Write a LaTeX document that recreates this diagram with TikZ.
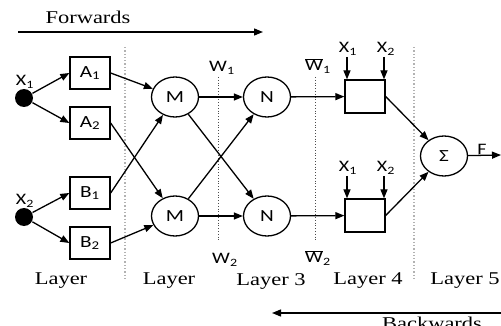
\documentclass[tikz,border=0pt]{standalone}
\usepackage{fontspec}
\usepackage{graphicx}
\setmainfont{Liberation Serif}
\newfontfamily\calfont{Carlito}
\usetikzlibrary{arrows.meta,shapes.geometric}
\newcommand{\stretchx}[1]{\scalebox{1.25}[1]{#1}}
\newcommand{\wbar}[1]{\stretchx{\(\overline{\mbox{W}}\)\textsubscript{#1}}}

\begin{document}
\begin{tikzpicture}[x=1pt, y=-1pt, >={Triangle[length=9pt,width=7pt]}, line width=1.3pt,
  cell/.style={draw, line width=1.3pt, minimum width=40pt, minimum height=32pt, inner sep=0pt, font=\calfont\fontsize{17}{17}\selectfont},
  unit/.style={draw, ellipse, line width=1.3pt, minimum width=47pt, minimum height=40pt, inner sep=0pt, font=\calfont\fontsize{17}{17}\selectfont},
  inp/.style={circle, fill, minimum size=18pt, inner sep=0pt},
  sym/.style={inner sep=0pt, font=\calfont\fontsize{16}{16}\selectfont},
  lay/.style={inner sep=0pt, font=\fontsize{18}{18}\selectfont},
  divider/.style={gray!60, line width=1.3pt, dotted},
  weight/.style={black!70, line width=0.8pt, dotted}]

\useasboundingbox (0,0) rectangle (501,326);

% direction arrows
\node[lay] (fwd) at (88,17) {\stretchx{Forwards}};
\coordinate (fs) at (18,32);
\coordinate (fe) at (263,32);
\draw[->] (fs) -- (fe);
\node[lay] (bwd) at (432,323) {\stretchx{Backwards}};
\coordinate (bs) at (501,313);
\coordinate (be) at (272,313);
\draw[->] (bs) -- (be);

% layer borders and weights
\draw[divider] (125,47) -- (125,281);
\draw[divider] (414,47) -- (414,281);
\draw[weight] (218,77) -- (218,241);
\draw[weight] (315,77) -- (315,241);

% inputs
\node[inp] (x1) at (24,98) {};
\node[inp] (x2) at (24,217) {};
\node[sym] (lx1) at (25,82) {\stretchx{X\textsubscript{1}}};
\node[sym] (lx2) at (25,201) {\stretchx{X\textsubscript{2}}};

% layer 1
\node[cell] (a1) at (90,73) {\stretchx{A\textsubscript{1}}};
\node[cell] (a2) at (90,123) {\stretchx{A\textsubscript{2}}};
\node[cell] (b1) at (90,193) {\stretchx{B\textsubscript{1}}};
\node[cell] (b2) at (90,243) {\stretchx{B\textsubscript{2}}};

% layer 2 and 3
\node[unit] (m1) at (175,97) {\stretchx{M}};
\node[unit] (m2) at (175,216) {\stretchx{M}};
\node[unit] (n1) at (267,97) {\stretchx{N}};
\node[unit] (n2) at (267,216) {\stretchx{N}};
\node[sym] (w1) at (222,68) {\stretchx{W\textsubscript{1}}};
\node[sym] (w2) at (225,260) {\stretchx{W\textsubscript{2}}};
\node[sym] (wb1) at (318,66) {\wbar{1}};
\node[sym] (wb2) at (318,258) {\wbar{2}};

% layer 4
\node[cell, minimum height=33pt] (p1) at (365,96.5) {};
\node[cell, minimum height=33pt] (p2) at (365,215.5) {};
\node[sym] (q11) at (348,49) {\stretchx{X\textsubscript{1}}};
\node[sym] (q12) at (386,49) {\stretchx{X\textsubscript{2}}};
\node[sym] (q21) at (348,168) {\stretchx{X\textsubscript{1}}};
\node[sym] (q22) at (386,168) {\stretchx{X\textsubscript{2}}};
\coordinate (c11) at (347,57);
\coordinate (c12) at (384,57);
\coordinate (c21) at (347,176);
\coordinate (c22) at (384,176);

% layer 5
\node[unit] (sum) at (444,156) {\stretchx{Σ}};
\node[sym] (fo) at (482,149) {\stretchx{F}};
\coordinate (out) at (501,155);

% connections
\draw[->] (x1) -- (a1.west);
\draw[->] (x1) -- (a2.west);
\draw[->] (x2) -- (b1.west);
\draw[->] (x2) -- (b2.west);
\draw[->] (a1.east) -- (m1);
\draw[->] (a2.east) -- (m2);
\draw[->] (b1.east) -- (m1);
\draw[->] (b2.east) -- (m2);
\draw[->] (m1) -- (n1);
\draw[->] (m1) -- (n2);
\draw[->] (m2) -- (n1);
\draw[->] (m2) -- (n2);
\draw[->] (n1) -- (p1);
\draw[->] (n2) -- (p2);
\draw[->] (c11) -- (c11 |- p1.north);
\draw[->] (c12) -- (c12 |- p1.north);
\draw[->] (c21) -- (c21 |- p2.north);
\draw[->] (c22) -- (c22 |- p2.north);
\draw[->] (p1.east) -- (sum);
\draw[->] (p2.east) -- (sum);
\draw[->] (sum) -- (out);

% layer names
\node[lay] (l1) at (61,281) {\stretchx{Layer}};
\node[lay] (l2) at (169,281) {\stretchx{Layer}};
\node[lay] (l3) at (271,281) {\stretchx{Layer 3}};
\node[lay] (l4) at (368,281) {\stretchx{Layer 4}};
\node[lay] (l5) at (465,281) {\stretchx{Layer 5}};

\end{tikzpicture}
\end{document}
